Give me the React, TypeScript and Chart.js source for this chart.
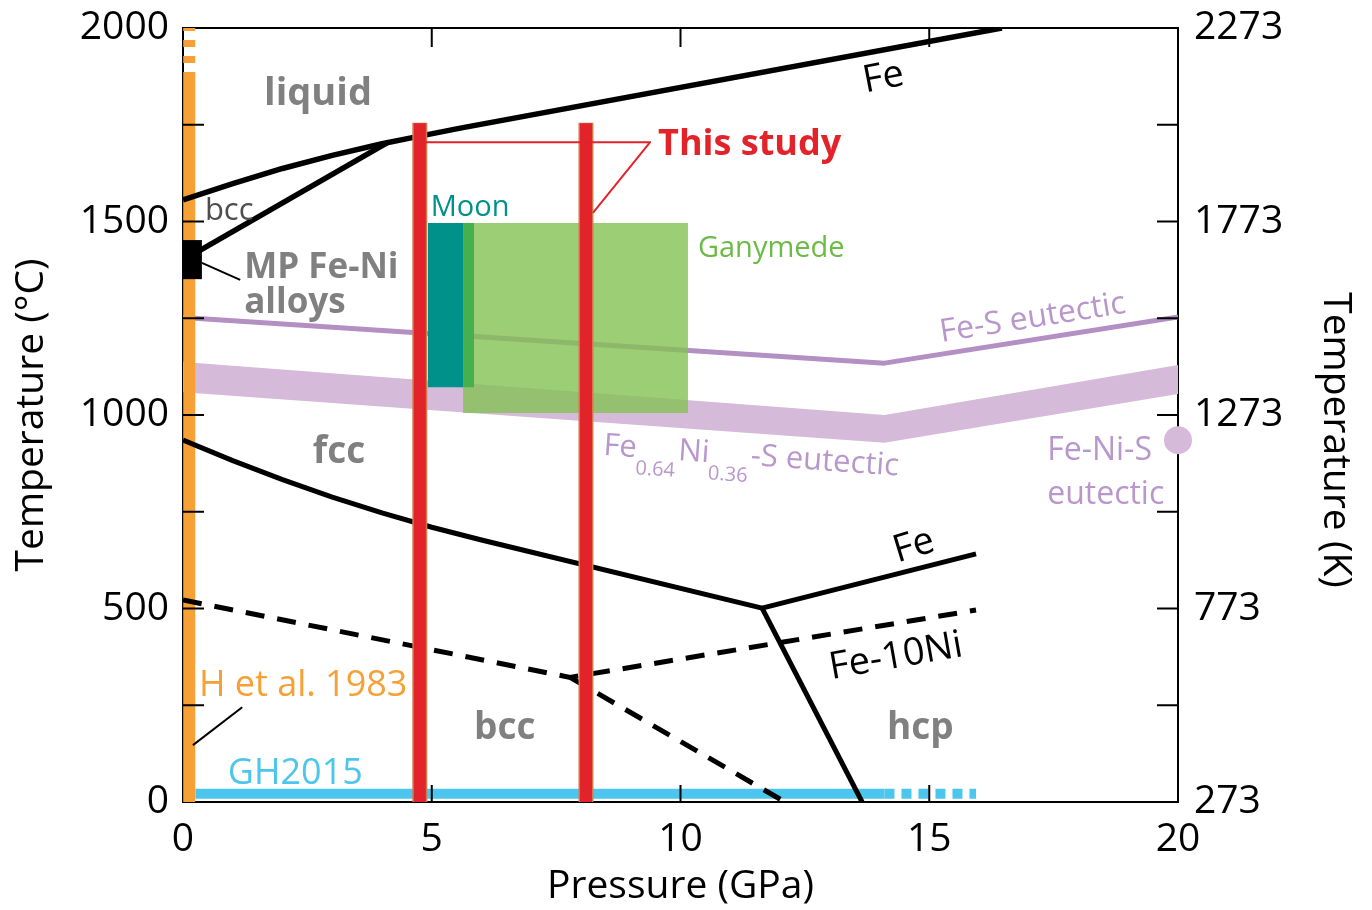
import React, { useEffect, useRef } from 'react';
import { Chart, registerables } from 'chart.js';

Chart.register(...registerables);

// ---------- canvas / frame ----------
const W = 1372;
const H = 910;
const PLOT_LEFT = 183;
const PLOT_RIGHT = 1178;
const PLOT_TOP = 28;
const PLOT_BOTTOM = 802;

// ---------- axes ----------
const pMin = 0;
const pMax = 20;
const tMin = 0;
const tMax = 2000;
const xTickStep = 5;
const yTickStep = 500;
const xInnerTicks = [5, 10, 15];
const yInnerTicks = [250, 500, 750, 1000, 1250, 1500, 1750];
const kelvinOffset = 273;

// ---------- pure Fe phase boundaries ----------
const meltP = [0, 1, 2, 3, 4, 4.66, 5.6, 16.46];
const meltT = [1556, 1598, 1637, 1671, 1701, 1718, 1742, 2000];
const deltaGammaP = [0, 4.1];
const deltaGammaT = [1400, 1703];
const alphaGammaP = [0, 1, 2, 3, 4, 5, 6, 11.64];
const alphaGammaT = [935, 882, 833, 788, 747, 710, 677, 501];
const gammaHcpP = [11.64, 15.94];
const gammaHcpT = [501, 641];
const alphaHcpP = [11.64, 13.65];
const alphaHcpT = [501, 0];

// ---------- Fe-10Ni (dashed) ----------
const ni10AP = [0, 7.78, 15.94];
const ni10AT = [522, 322, 496];
const ni10BP = [7.78, 12.1];
const ni10BT = [322, 0];

// ---------- eutectics ----------
const feSP = [0, 14.1, 20];
const feST = [1252, 1134, 1253];
const feNiSP = [0, 14.1, 20];
const feNiSHighT = [1137, 1000, 1129];
const feNiSLowT = [1059, 928, 1054];
const feNiSPointP = [20];
const feNiSPointT = [935];

// ---------- this study ----------
const studyP = [4.76, 8.1];
const studyTop = 1754;
const studyLeaderP = [4.76, 9.39, 8.24];
const studyLeaderT = [1705, 1705, 1522];

// ---------- Moon / Ganymede ----------
const moonP = [4.92, 5.63];
const moonEdgeP = [5.63, 5.85];
const moonT = [1072, 1496];
const ganymedeP = [5.63, 10.15];
const ganymedeT = [1005, 1496];

// ---------- MP Fe-Ni alloys ----------
const mpP = [0, 0.38];
const mpT = [1351, 1452];
const mpLeaderP = [0.38, 1.15];
const mpLeaderT = [1393, 1349];

// ---------- H et al. 1983 ----------
const hP = [0.125, 0.125];
const hSolidT = [0, 1886];
const hDashT = [1886, 2000];
const hLeaderP = [0.2, 1.19];
const hLeaderT = [147, 245];

// ---------- GH2015 ----------
const ghSolidP = [0.25, 14.1];
const ghDashP = [14.1, 15.94];
const ghT = [21, 21];

// ---------- colours ----------
const GRAY = '#808080';
const RED = '#E2232A';
const RED_EDGE = '#D27A4E';
const TEAL = '#00918A';
const TEAL_EDGE = '#46B04F';
const GANY = 'rgba(131,194,84,0.8)';
const GANY_TXT = '#6CBB47';
const PURPLE_LINE = '#B48FC4';
const PURPLE_BAND = '#D5BAD9';
const PURPLE_TXT = '#B996CB';
const ORANGE = '#F7A035';
const CYAN = '#4CC6EC';
const FONT = "'Open Sans', 'Noto Sans', sans-serif";

const pts = (xs: number[], ys: number[]) => xs.map((x, i) => ({ x, y: ys[i] }));

type Lbl = {
  text: string; p: number; t: number; size: number; bold?: boolean; color: string;
  align?: CanvasTextAlign; base?: CanvasTextBaseline; rot?: number;
};

const labels: Lbl[] = [
  { text: 'liquid', p: 1.63, t: 1801, size: 38, bold: true, color: GRAY },
  { text: 'bcc', p: 0.44, t: 1504, size: 31, color: '#4D4D4D' },
  { text: 'MP Fe-Ni', p: 1.23, t: 1354, size: 35, bold: true, color: GRAY },
  { text: 'alloys', p: 1.23, t: 1264, size: 35, bold: true, color: GRAY },
  { text: 'fcc', p: 2.61, t: 876, size: 37, bold: true, color: GRAY },
  { text: 'bcc', p: 5.85, t: 163, size: 37, bold: true, color: GRAY },
  { text: 'hcp', p: 14.15, t: 163, size: 37, bold: true, color: GRAY },
  { text: 'This study', p: 9.55, t: 1672, size: 36, bold: true, color: RED },
  { text: 'Moon', p: 4.98, t: 1514, size: 29, color: TEAL },
  { text: 'Ganymede', p: 10.35, t: 1408, size: 29, color: GANY_TXT },
  { text: 'Fe-S eutectic', p: 17.08, t: 1250, size: 32, color: PURPLE_TXT, align: 'center', base: 'middle', rot: -9 },
  { text: 'Fe-Ni-S', p: 17.37, t: 884, size: 32, color: PURPLE_TXT },
  { text: 'eutectic', p: 17.37, t: 770, size: 32, color: PURPLE_TXT },
  { text: 'H et al. 1983', p: 0.32, t: 274, size: 36, color: ORANGE },
  { text: 'GH2015', p: 0.9, t: 47, size: 36, color: CYAN },
  { text: 'Fe', p: 14.08, t: 1871, size: 38, color: '#000', align: 'center', base: 'middle', rot: -11 },
  { text: 'Fe', p: 14.69, t: 661, size: 38, color: '#000', align: 'center', base: 'middle', rot: -17 },
  { text: 'Fe-10Ni', p: 14.33, t: 375, size: 38, color: '#000', align: 'center', base: 'middle', rot: -10 },
];

// Fe0.64Ni0.36-S eutectic label pieces: [text, isSubscript]
const alloyLabelParts: [string, boolean][] = [
  ['Fe', false], ['0.64', true], ['Ni', false], ['0.36', true], ['-S eutectic', false],
];
const alloyLabelAnchor = { p: 8.44, t: 897, rot: 4, size: 31, subSize: 20 };

const overlayPlugin = {
  id: 'overlay',
  afterDraw(chart: any) {
    const { ctx, chartArea: a } = chart;
    const sx = chart.scales.x;
    const sy = chart.scales.y;
    ctx.save();
    // inward ticks
    ctx.strokeStyle = '#000';
    ctx.lineWidth = 2;
    ctx.beginPath();
    for (const v of yInnerTicks) {
      const y = sy.getPixelForValue(v);
      ctx.moveTo(a.left, y); ctx.lineTo(a.left + 21, y);
      ctx.moveTo(a.right, y); ctx.lineTo(a.right - 21, y);
    }
    for (const v of xInnerTicks) {
      const x = sx.getPixelForValue(v);
      ctx.moveTo(x, a.bottom); ctx.lineTo(x, a.bottom - 17);
      ctx.moveTo(x, a.top); ctx.lineTo(x, a.top + 19);
    }
    ctx.stroke();

    // text labels
    for (const l of labels) {
      const x = sx.getPixelForValue(l.p);
      const y = sy.getPixelForValue(l.t);
      ctx.save();
      ctx.translate(x, y);
      if (l.rot) ctx.rotate((l.rot * Math.PI) / 180);
      ctx.font = `${l.bold ? 'bold ' : ''}${l.size}px ${FONT}`;
      ctx.fillStyle = l.color;
      ctx.textAlign = l.align || 'left';
      ctx.textBaseline = l.base || 'alphabetic';
      ctx.fillText(l.text, 0, 0);
      ctx.restore();
    }

    // rich text Fe0.64Ni0.36-S eutectic
    {
      const x = sx.getPixelForValue(alloyLabelAnchor.p);
      const y = sy.getPixelForValue(alloyLabelAnchor.t);
      ctx.save();
      ctx.translate(x, y);
      ctx.rotate((alloyLabelAnchor.rot * Math.PI) / 180);
      ctx.fillStyle = PURPLE_TXT;
      ctx.textAlign = 'left';
      ctx.textBaseline = 'alphabetic';
      let cx = 0;
      for (const [txt, sub] of alloyLabelParts) {
        ctx.font = `${sub ? alloyLabelAnchor.subSize : alloyLabelAnchor.size}px ${FONT}`;
        ctx.fillText(txt, cx, sub ? 17 : 0);
        cx += ctx.measureText(txt).width + (sub ? 2 : 0);
      }
      ctx.restore();
    }

    // right axis title
    ctx.save();
    ctx.translate(W - 37, (a.top + a.bottom) / 2 + 25);
    ctx.rotate(Math.PI / 2);
    ctx.font = `39px ${FONT}`;
    ctx.fillStyle = '#000';
    ctx.textAlign = 'center';
    ctx.textBaseline = 'middle';
    ctx.fillText('Temperature (K)', 0, 0);
    ctx.restore();

    ctx.restore();
  },
};

const line = (data: any[], color: string, width: number, order: number, extra: any = {}) => ({
  type: 'scatter',
  data,
  showLine: true,
  borderColor: color,
  borderWidth: width,
  pointRadius: 0,
  pointHoverRadius: 0,
  fill: false,
  tension: 0,
  order,
  xAxisID: 'x',
  yAxisID: 'y',
  borderCapStyle: 'butt',
  borderJoinStyle: 'round',
  ...extra,
});

const rect = (ps: number[], ts: number[], color: string, order: number) => ({
  type: 'scatter',
  data: pts(ps, [ts[1], ts[1]]),
  showLine: true,
  borderColor: 'rgba(0,0,0,0)',
  borderWidth: 0,
  backgroundColor: color,
  pointRadius: 0,
  pointHoverRadius: 0,
  fill: { value: ts[0] },
  tension: 0,
  order,
  xAxisID: 'x',
  yAxisID: 'y',
});

const fixSize = (prop: 'width' | 'height', size: number) => (s: any) => {
  s[prop] = size;
  s.paddingTop = 0;
  s.paddingBottom = 0;
  s.paddingLeft = 0;
  s.paddingRight = 0;
};

export default function App() {
  const ref = useRef<HTMLCanvasElement>(null);

  useEffect(() => {
    const canvas = ref.current;
    if (!canvas) return;

    const datasets: any[] = [
      // lower order = drawn later (on top)
      {
        type: 'scatter',
        data: pts(feNiSPointP, feNiSPointT),
        showLine: false,
        pointRadius: 14,
        pointHoverRadius: 14,
        pointBackgroundColor: PURPLE_BAND,
        pointBorderWidth: 0,
        pointBorderColor: PURPLE_BAND,
        clip: false,
        order: 1,
        xAxisID: 'x',
        yAxisID: 'y',
      },
      rect(mpP, mpT, '#000', 2),
      line(pts(mpLeaderP, mpLeaderT), '#000', 2, 2),
      line(pts(hLeaderP, hLeaderT), '#000', 2, 2),
      line(pts(studyLeaderP, studyLeaderT), RED, 2, 3),
      ...studyP.map((p) => line(pts([p, p], [0, studyTop]), RED, 12, 4)),
      ...studyP.map((p) => line(pts([p, p], [0, studyTop + 1]), RED_EDGE, 15, 5)),
      line(pts(meltP, meltT), '#000', 5.5, 6),
      line(pts(deltaGammaP, deltaGammaT), '#000', 5.5, 6),
      line(pts(alphaGammaP, alphaGammaT), '#000', 5, 6),
      line(pts(gammaHcpP, gammaHcpT), '#000', 5, 6),
      line(pts(alphaHcpP, alphaHcpT), '#000', 5, 6),
      line(pts(ni10AP, ni10AT), '#000', 5, 6, { borderDash: [19, 13], borderJoinStyle: 'miter' }),
      line(pts(ni10BP, ni10BT), '#000', 5, 6, { borderDash: [19, 13] }),
      line(pts(hP, hSolidT), ORANGE, 12, 7),
      line(pts(hP, hDashT), ORANGE, 12, 7, { borderDash: [7, 9], borderDashOffset: 7 }),
      line(pts(ghSolidP, ghT), CYAN, 10, 8),
      line(pts(ghDashP, ghT), CYAN, 10, 8, { borderDash: [10, 7] }),
      rect(moonEdgeP, moonT, TEAL_EDGE, 9),
      rect(moonP, moonT, TEAL, 9),
      rect(ganymedeP, ganymedeT, GANY, 10),
      line(pts(feSP, feST), PURPLE_LINE, 5, 11),
    ];
    // Fe0.64Ni0.36-S eutectic band (upper edge, then lower edge filled to previous)
    datasets.push(line(pts(feNiSP, feNiSHighT), 'rgba(0,0,0,0)', 0, 12));
    datasets.push(line(pts(feNiSP, feNiSLowT), 'rgba(0,0,0,0)', 0, 12, { fill: '-1', backgroundColor: PURPLE_BAND }));

    const tickFont = { family: FONT, size: 39 };
    const titleFont = { family: FONT, size: 39 };

    const chart = new Chart(canvas, {
      type: 'scatter',
      data: { datasets },
      plugins: [overlayPlugin],
      options: {
        responsive: false,
        animation: false,
        devicePixelRatio: 1,
        events: [],
        layout: { padding: 0 },
        plugins: { legend: { display: false }, tooltip: { enabled: false } },
        scales: {
          x: {
            type: 'linear',
            position: 'bottom',
            min: pMin,
            max: pMax,
            ticks: { stepSize: xTickStep, font: tickFont, color: '#000', padding: 14, autoSkip: false, maxRotation: 0 },
            grid: { display: false, drawTicks: false },
            border: { display: true, color: '#000', width: 2 },
            title: { display: true, text: 'Pressure (GPa)', font: titleFont, color: '#000', padding: { top: 2, bottom: 0 } },
            afterFit: fixSize('height', H - PLOT_BOTTOM),
          },
          xTop: {
            type: 'linear',
            position: 'top',
            min: pMin,
            max: pMax,
            ticks: { display: false },
            grid: { display: false, drawTicks: false },
            border: { display: true, color: '#000', width: 2 },
            afterFit: fixSize('height', PLOT_TOP),
          },
          y: {
            type: 'linear',
            position: 'left',
            min: tMin,
            max: tMax,
            ticks: {
              stepSize: yTickStep, font: tickFont, color: '#000', padding: 14, autoSkip: false,
              callback: (v: any) => String(v),
            },
            grid: { display: false, drawTicks: false },
            border: { display: true, color: '#000', width: 2 },
            title: { display: true, text: 'Temperature (°C)', font: titleFont, color: '#000', padding: { top: 8, bottom: 0 } },
            afterFit: fixSize('width', PLOT_LEFT),
          },
          y2: {
            type: 'linear',
            position: 'right',
            min: tMin,
            max: tMax,
            ticks: {
              stepSize: yTickStep, font: tickFont, color: '#000', padding: 16, autoSkip: false,
              callback: (v: any) => String(Number(v) + kelvinOffset),
            },
            grid: { display: false, drawTicks: false },
            border: { display: true, color: '#000', width: 2 },
            afterFit: fixSize('width', W - PLOT_RIGHT),
          },
        },
      } as any,
    } as any);

    return () => chart.destroy();
  }, []);

  return (
    <div style={{ position: 'absolute', left: 0, top: 0, width: W, height: H, background: '#fff' }}>
      <canvas ref={ref} width={W} height={H} style={{ display: 'block', width: W, height: H }} />
    </div>
  );
}
